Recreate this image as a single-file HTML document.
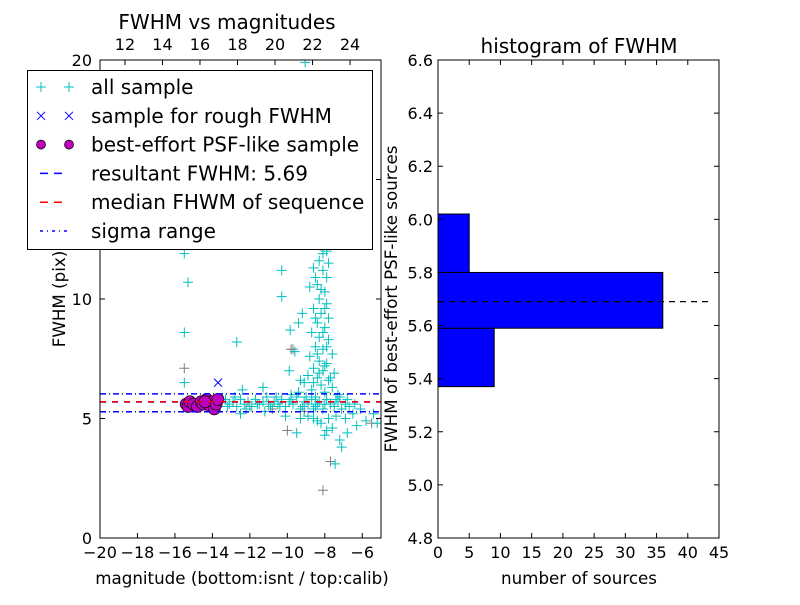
<!DOCTYPE html>
<html><head><meta charset="utf-8"><style>
body{margin:0;background:#fff}
text{font-family:"DejaVu Sans","Liberation Sans",sans-serif}
</style></head><body>
<svg id="fig" width="800" height="600" xmlns="http://www.w3.org/2000/svg">
<rect width="800" height="600" fill="#fff"/>
<g id="left"></g>
<g id="right"></g>
</svg>
<script>
const allSample = [[-15.5,11.9],[-15.3,10.7],[-15.5,8.6],[-15.5,6.5],[-12.7,8.2],[-10.3,11.2],[-10.3,10.1],[-9.85,8.7],[-11.3,6.3],[-12.4,6.2],[-9.05,19.9],[-7.45,3.1],[-7.1,3.8],[-9.5,4.4],[-5.4,5.2],[-5.8,4.9],[-6.3,4.7],[-6.8,4.4],[-7.2,4.1],[-7.6,4.6],[-8.0,4.3],[-8.4,4.9],[-5.2,4.8],
[-8.3,14.3],[-8.4,13.8],[-8.1,13.5],[-8.3,13.0],[-8.0,12.7],[-8.5,12.4],[-8.2,12.2],[-7.9,12.0],[-8.3,11.6],[-8.6,11.3],[-8.1,11.2],[-7.9,10.9],[-8.4,10.6],[-8.8,10.5],[-8.0,10.3],[-8.3,10.0],[-7.9,9.8],[-8.6,9.6],[-8.2,9.4],[-7.8,9.2],[-8.4,9.0],[-8.0,8.8],[-8.7,8.6],[-8.3,8.4],[-7.8,8.3],[-8.5,8.0],[-8.1,7.9],[-7.6,7.7],[-8.8,7.6],[-8.3,7.4],[-7.9,7.3],[-8.6,7.1],[-8.1,7.0],[-7.5,6.9],[-8.9,6.8],[-8.4,6.7],[-7.8,6.6],[-9.1,6.5],[-8.2,6.4],[-7.6,6.3],[-8.7,6.2],[-9.4,6.1],[-8.0,6.1],[-7.3,6.0],[-9.8,6.0],[-8.5,5.9],
[-8.2,13.9],[-8.0,13.1],[-8.4,12.6],[-8.1,11.9],[-7.8,11.5],[-8.5,10.9],[-8.2,10.4],[-8.0,9.6],[-8.5,9.2],[-8.1,8.6],[-7.9,8.0],[-8.4,7.7],[-8.0,7.2],[-8.3,6.9],[-7.7,6.7],[-8.6,6.5],
[-9.2,9.4],[-9.4,9.0],[-9.6,7.8],[-9.9,7.0],[-9.3,6.6],
[-8.6,5.0],[-8.2,4.8],[-7.8,5.0],[-7.4,5.1],[-8.9,5.1],[-9.3,5.0],[-7.9,4.5],[-6.9,5.0],[-6.5,5.2],[-10.1,5.1],[-12.5,5.2],[-11.2,5.3],
[-13.5,5.7],[-13.3,5.8],[-13.1,5.6],[-12.9,5.7],[-12.7,5.5],[-12.5,5.8],[-12.3,5.6],[-12.1,5.7],[-11.9,5.5],[-11.7,5.8],[-11.5,5.6],[-11.3,5.7],[-11.1,5.9],[-10.9,5.5],[-10.7,5.7],[-10.5,5.6],[-10.3,5.8],[-10.1,5.5],[-9.9,5.7],[-9.7,5.6],[-9.5,5.9],[-9.3,5.4],[-9.1,5.7],[-8.9,5.6],[-8.7,5.8],[-8.5,5.5],[-8.3,5.7],[-8.1,5.4],[-7.9,5.8],[-7.7,5.6],[-7.5,5.5],[-7.3,5.7],[-7.1,5.4],[-6.9,5.6],[-6.7,5.5],[-6.4,5.6],[-6.1,5.4],
[-13.2,5.5],[-12.8,5.9],[-12.2,5.4],[-11.6,5.6],[-11.0,5.6],[-10.4,5.5],[-9.8,5.8],[-9.2,5.5],[-8.6,5.4],[-8.0,5.6],[-7.4,5.8],[-6.8,5.8],[-10.6,5.9],[-9.0,5.9],[-8.4,5.6],[-7.2,5.9]];
const grayPts = [[-15.5,7.1],[-9.8,7.9],[-9.7,7.9],[-10.0,4.5],[-8.1,2.0],[-7.7,3.2],[-5.5,4.8],[-9.1,5.3],[-10.8,5.4],[-12.0,5.5]];
const roughPts = [[-13.7,6.5]];
const psfPts = [[-15.4,5.6],[-15.3,5.5],[-15.2,5.7],[-15.0,5.6],[-14.8,5.5],[-14.6,5.7],[-14.5,5.6],[-14.3,5.8],[-14.2,5.6],[-14.1,5.5],[-14.0,5.7],[-13.9,5.4],[-13.8,5.6],[-13.7,5.8],[-14.4,5.7]];
const fwhmValue = 5.69, medianValue = 5.70, sigmaLow = 5.28, sigmaHigh = 6.03;
const xTicks = [-20,-18,-16,-14,-12,-10,-8,-6];
const yTicks = [0,5,10,15,20];
const topTicks = [12,14,16,18,20,22,24];
const histEdges = [5.37,5.59,5.80,6.02];
const histCounts = [9,36,5];
const hxTicks = [0,5,10,15,20,25,30,35,40,45];
const hyTicks = [4.8,5.0,5.2,5.4,5.6,5.8,6.0,6.2,6.4,6.6];

const NS="http://www.w3.org/2000/svg";
function mk(p,tag,attrs,txt){const e=document.createElementNS(NS,tag);for(const k in attrs)e.setAttribute(k,attrs[k]);if(txt!==undefined)e.textContent=txt;p.appendChild(e);return e;}
const fmt=v=>String(v).replace('-','\u2212');

const L=document.getElementById('left');
const lx0=100,lx1=381,ly0=60,ly1=538;
const X=m=>lx0+(m+20)/15*(lx1-lx0);
const Y=f=>ly1-f/20*(ly1-ly0);
const TX=t=>lx0+(t-10.67)/(25.65-10.67)*(lx1-lx0);
const cl=mk(L,'clipPath',{id:'lc'});mk(cl,'rect',{x:lx0,y:ly0,width:lx1-lx0,height:ly1-ly0});
const pg=mk(L,'g',{'clip-path':'url(#lc)'});
function plus(g,x,y,c){mk(g,'path',{d:`M${x-5} ${y}H${x+5}M${x} ${y-5}V${y+5}`,stroke:c,'stroke-width':1,fill:'none'});}
grayPts.forEach(p=>{const e=mk(pg,'g',{});


plus(e,X(p[0]),Y(p[1]),'#808080');});
allSample.forEach(p=>{const e=mk(pg,'g',{});


plus(e,X(p[0]),Y(p[1]),'#00bfbf');});
roughPts.forEach(p=>{const x=X(p[0]),y=Y(p[1]);const e=mk(pg,'path',{d:`M${x-4} ${y-4}L${x+4} ${y+4}M${x-4} ${y+4}L${x+4} ${y-4}`,stroke:'#0000ff',fill:'none'});

});
psfPts.forEach(p=>{const e=mk(pg,'circle',{cx:X(p[0]),cy:Y(p[1]),r:6,fill:'#bf00bf',stroke:'#000','stroke-width':0.7});

});
function hl(y,c,dash,name){const e=mk(pg,'line',{x1:lx0,x2:lx1,y1:y,y2:y,stroke:c,'stroke-width':1.5,'stroke-dasharray':dash});

}
hl(Y(fwhmValue),'#0000ff','6,6','resultant-fwhm-line');
hl(Y(medianValue),'#ff0000','6,6','median-fwhm-line');
hl(Y(sigmaHigh),'#0000ff','6,3,1,3','sigma-high-line');
hl(Y(sigmaLow),'#0000ff','6,3,1,3','sigma-low-line');
mk(L,'rect',{x:lx0,y:ly0,width:lx1-lx0,height:ly1-ly0,fill:'none',stroke:'#000'});
xTicks.forEach(t=>{const x=X(t);mk(L,'path',{d:`M${x} ${ly1}v-5`,stroke:'#000'});
const e=mk(L,'text',{x:x,y:ly1+20,'font-size':16,'text-anchor':'middle'},fmt(t));

});
yTicks.forEach(t=>{const y=Y(t);mk(L,'path',{d:`M${lx0} ${y}h5M${lx1} ${y}h-5`,stroke:'#000'});
const e=mk(L,'text',{x:lx0-8,y:y+6,'font-size':16,'text-anchor':'end'},t);

});
topTicks.forEach(t=>{const x=TX(t);mk(L,'path',{d:`M${x} ${ly0}v5`,stroke:'#000'});
const e=mk(L,'text',{x:x,y:ly0-10,'font-size':16,'text-anchor':'middle'},t);

});
let e;
e=mk(L,'text',{x:227,y:29,'font-size':20,'text-anchor':'middle'},'FWHM vs magnitudes');
e=mk(L,'text',{x:242,y:584,'font-size':16.7,'text-anchor':'middle'},'magnitude (bottom:isnt / top:calib)');
e=mk(L,'text',{x:0,y:0,'font-size':16.7,'text-anchor':'middle',transform:'translate(65,299) rotate(-90)'},'FWHM (pix)');
const lg=mk(L,'g',{});
mk(lg,'rect',{x:27.5,y:70.5,width:345,height:179,fill:'#fff',stroke:'#000'});
const labels=['all sample','sample for rough FWHM','best-effort PSF-like sample','resultant FWHM: 5.69','median FHWM of sequence','sigma range'];
labels.forEach((s,i)=>{const y=87+i*28.8;const mx1=41,mx2=69;
if(i==0){plus(lg,mx1,y,'#00bfbf');plus(lg,mx2,y,'#00bfbf');}
if(i==1){[mx1,mx2].forEach(x=>mk(lg,'path',{d:`M${x-4} ${y-4}L${x+4} ${y+4}M${x-4} ${y+4}L${x+4} ${y-4}`,stroke:'#0000ff'}));}
if(i==2){[mx1,mx2].forEach(x=>mk(lg,'circle',{cx:x,cy:y,r:4.5,fill:'#bf00bf',stroke:'#000','stroke-width':0.7}));}
if(i==3)mk(lg,'line',{x1:40,x2:68,y1:y,y2:y,stroke:'#0000ff','stroke-width':1.5,'stroke-dasharray':'8,6'});
if(i==4)mk(lg,'line',{x1:40,x2:68,y1:y,y2:y,stroke:'#ff0000','stroke-width':1.5,'stroke-dasharray':'8,6'});
if(i==5)mk(lg,'line',{x1:40,x2:68,y1:y,y2:y,stroke:'#0000ff','stroke-width':1.5,'stroke-dasharray':'3,4,1,4'});
const t=mk(lg,'text',{x:91,y:y+7,'font-size':20},s);});

const R=document.getElementById('right');
const rx0=438,rx1=719,ry0=60,ry1=538;
const HX=v=>rx0+v/45*(rx1-rx0);
const HY=v=>ry1-(v-4.8)/1.8*(ry1-ry0);
histCounts.forEach((c,i)=>{const y1=HY(histEdges[i+1]),y2=HY(histEdges[i]);
const b=mk(R,'rect',{x:rx0,y:y1,width:HX(c)-rx0,height:y2-y1,fill:'#0000ff',stroke:'#000'});

});
e=mk(R,'line',{x1:rx0,x2:HX(43.5),y1:HY(fwhmValue),y2:HY(fwhmValue),stroke:'#000','stroke-width':1.3,'stroke-dasharray':'6,5'});
mk(R,'rect',{x:rx0,y:ry0,width:rx1-rx0,height:ry1-ry0,fill:'none',stroke:'#000'});
hxTicks.forEach(t=>{const x=HX(t);mk(R,'path',{d:`M${x} ${ry1}v-5M${x} ${ry0}v5`,stroke:'#000'});
const e=mk(R,'text',{x:x,y:ry1+20,'font-size':16,'text-anchor':'middle'},t);

});
hyTicks.forEach(t=>{const y=HY(t);mk(R,'path',{d:`M${rx0} ${y}h5M${rx1} ${y}h-5`,stroke:'#000'});
const e=mk(R,'text',{x:rx0-5,y:y+6,'font-size':16,'text-anchor':'end'},t.toFixed(1));

});
e=mk(R,'text',{x:579,y:53,'font-size':20,'text-anchor':'middle'},'histogram of FWHM');
e=mk(R,'text',{x:579,y:584,'font-size':16.7,'text-anchor':'middle'},'number of sources');
e=mk(R,'text',{x:0,y:0,'font-size':16.7,'text-anchor':'middle',transform:'translate(397,299) rotate(-90)'},'FWHM of best-effort PSF-like sources');
</script>
</body></html>
